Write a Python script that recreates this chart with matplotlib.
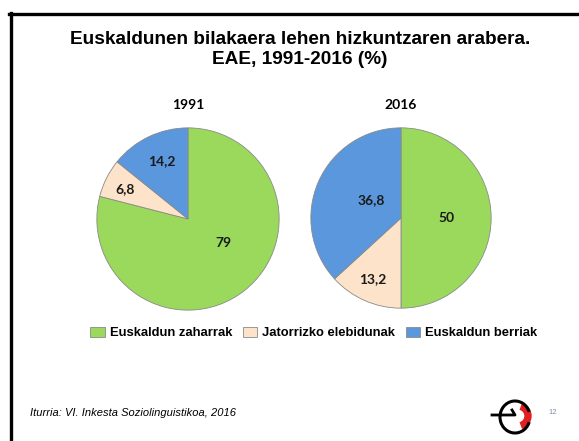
import matplotlib.pyplot as plt
from matplotlib.patches import Arc, Wedge
from matplotlib.lines import Line2D

categories = ['Euskaldun zaharrak', 'Jatorrizko elebidunak', 'Euskaldun berriak']
years = ['1991', '2016']
values_1991 = [79, 6.8, 14.2]
values_2016 = [50, 13.2, 36.8]
value_labels_1991 = ['79', '6,8', '14,2']
value_labels_2016 = ['50', '13,2', '36,8']
colors = ['#9ad95b', '#fde3c9', '#5b97dc']

# label positions inside each pie (unit radius)
label_pos_1991 = [(0.38, -0.26), (-0.68, 0.32), (-0.28, 0.62)]
label_pos_2016 = [(0.49, 0.0), (-0.31, -0.66), (-0.32, 0.20)]

W, H = 579, 441
fig = plt.figure(figsize=(W / 100, H / 100), dpi=100)

# slide border (top and left)
fig.add_artist(Line2D([10.5 / W, 10.5 / W], [0, 1 - 13 / H], transform=fig.transFigure,
                      color='black', lw=2.4))
fig.add_artist(Line2D([9.3 / W, 1], [1 - 14 / H, 1 - 14 / H], transform=fig.transFigure,
                      color='black', lw=2.4))

fig.text(300 / W, 1 - 39 / H, 'Euskaldunen bilakaera lehen hizkuntzaren arabera.',
         ha='center', va='center', fontsize=13.7, fontweight='bold', family='Liberation Sans')
fig.text(300 / W, 1 - 59.5 / H, 'EAE, 1991-2016 (%)',
         ha='center', va='center', fontsize=13.7, fontweight='bold', family='Liberation Sans')


def draw_pie(cx, cy, r, vals, labels, pos, year):
    ax = fig.add_axes([(cx - r) / W, 1 - (cy + r) / H, 2 * r / W, 2 * r / H])
    wedges, _ = ax.pie(vals, colors=colors, startangle=90, counterclock=False,
                       radius=0.98, wedgeprops=dict(edgecolor='#8a8a8a', linewidth=0.6))
    for (x, y), t in zip(pos, labels):
        ax.text(x, y, t, ha='center', va='center', fontsize=10, fontweight='bold',
                family='Lato', color='#1a1a1a')
    ax.set_xlim(-1, 1)
    ax.set_ylim(-1, 1)
    ax.set_aspect('equal')
    ax.axis('off')
    fig.text(cx / W, 1 - 105 / H, year, ha='center', va='center', fontsize=10,
             fontweight='bold', family='Lato')
    return wedges


wedges = draw_pie(188, 219, 93, values_1991, value_labels_1991, label_pos_1991, years[0])
draw_pie(401, 218, 92, values_2016, value_labels_2016, label_pos_2016, years[1])

fig.legend(wedges, categories, loc='center', bbox_to_anchor=(314 / W, 1 - 333 / H),
           ncol=3, frameon=False, handlelength=1.1, handleheight=0.9, handletextpad=0.4,
           columnspacing=0.8, prop=dict(family='Liberation Sans', weight='bold', size=9.4))

fig.text(30 / W, 1 - 413 / H, 'Iturria: VI. Inkesta Soziolinguistikoa, 2016',
         ha='left', va='center', fontsize=8, style='italic', family='Liberation Sans')
fig.text(548 / W, 1 - 412 / H, '12', ha='left', va='center', fontsize=5.5,
         color='#7f8fa6', family='Liberation Sans')

# rough logo
lax = fig.add_axes([488 / W, 1 - 437 / H, 48 / W, 40 / H])
lax.set_xlim(0, 48)
lax.set_ylim(0, 40)
lax.set_aspect('equal')
lax.axis('off')
lax.add_patch(Wedge((30, 21), 13, -70, 70, width=6, color='#e02020'))
lax.add_patch(Arc((27, 20), 30, 32, theta1=20, theta2=340, lw=2.2, color='black'))
lax.plot([4, 27, 24], [22, 22, 27], color='black', lw=2)

fig.savefig('out.png', dpi=100, facecolor='white')
